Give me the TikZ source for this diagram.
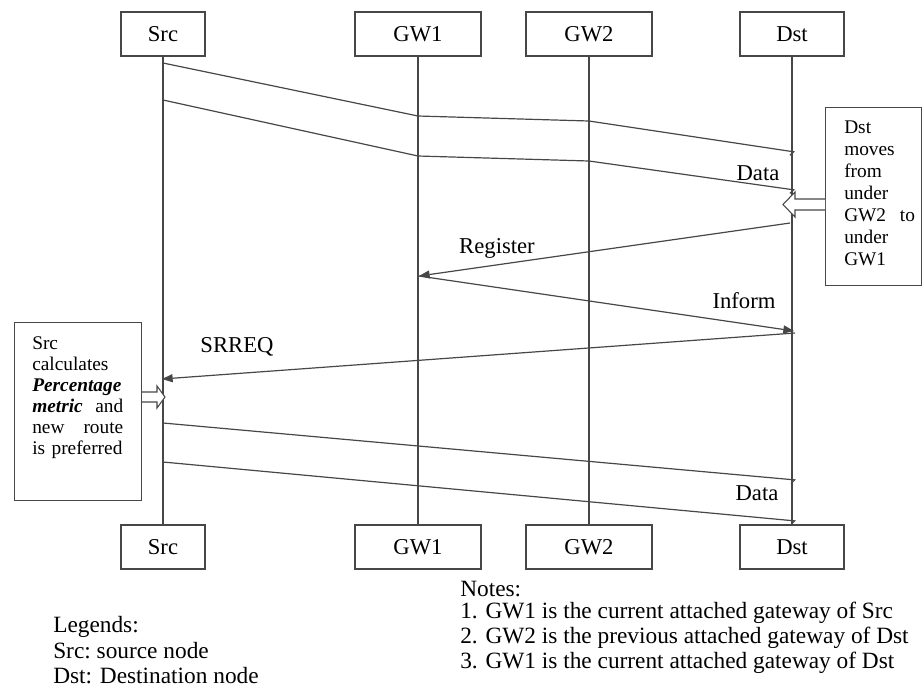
\documentclass[tikz,border=0pt]{standalone}
\usepackage{fontspec}
\setmainfont{Liberation Serif}
\usetikzlibrary{arrows.meta}

\begin{document}
\begin{tikzpicture}[x=0.75pt,y=-0.75pt,
  ink/.style={draw=black!72, line width=0.9pt},
  actor/.style={ink, fill=white, inner sep=0pt, minimum height=33pt,
                font=\fontsize{17}{20}\selectfont},
  msg/.style={ink, -{Triangle[length=8pt,width=6pt]}},
  datamsg/.style={ink, -{Straight Barb[length=2.5pt,width=6pt,right]}},
  lbl/.style={inner sep=0pt, font=\fontsize{17}{20}\selectfont},
  note/.style={inner sep=0pt, anchor=west, font=\fontsize{17.5}{20}\selectfont},
  hollow/.style={ink, fill=white, line width=0.8pt}]

\useasboundingbox (0,0) rectangle (922,687);

% participants, top row
\node[actor, minimum width=63pt]   (srcT) at (163,34) {Src};
\node[actor, minimum width=94.5pt] (gw1T) at (418,34) {GW1};
\node[actor, minimum width=94.5pt] (gw2T) at (589,34) {GW2};
\node[actor, minimum width=78pt]   (dstT) at (792,34) {Dst};

% participants, bottom row
\node[actor, minimum width=63pt]   (srcB) at (163,547) {Src};
\node[actor, minimum width=94.5pt] (gw1B) at (418,547) {GW1};
\node[actor, minimum width=94.5pt] (gw2B) at (589,547) {GW2};
\node[actor, minimum width=78pt]   (dstB) at (792,547) {Dst};

% lifelines
\draw[ink] (srcT) -- (srcB);
\draw[ink] (gw1T) -- (gw1B);
\draw[ink] (gw2T) -- (gw2B);
\draw[ink] (dstT) -- (dstB);

% points on the lifelines
\coordinate (s1) at (163,63);   \coordinate (g11) at (418,116);
\coordinate (g21) at (589,121); \coordinate (d1) at (795,152);
\coordinate (s2) at (163,100);  \coordinate (g12) at (418,156);
\coordinate (g22) at (589,161); \coordinate (d2) at (795,190);
\coordinate (dReg) at (790,223); \coordinate (gReg) at (419,276);
\coordinate (dInf) at (794,331);
\coordinate (dReq) at (795,333); \coordinate (sReq) at (162,379);
\coordinate (s3) at (163,423);  \coordinate (d3) at (796,480);
\coordinate (s4) at (163,462);  \coordinate (d4) at (796,521);

% data before the move
\draw[datamsg] (s1) -- (g11) -- (g21) -- (d1);
\draw[datamsg] (s2) -- (g12) -- (g22) -- (d2);
\node[lbl] (data1) at (758,173) {Data};

% hand-over signalling
\draw[msg] (dReg) -- (gReg);
\node[lbl] (reg) at (497,248) {Register};
\draw[msg] (gReg) -- (dInf);
\node[lbl] (inf) at (744,301) {Inform};
\draw[msg] (dReq) -- (sReq);
\node[lbl] (srreq) at (237,347) {SRREQ};

% data after the route change
\draw[datamsg] (s3) -- (d3);
\draw[datamsg] (s4) -- (d4);
\node[lbl] (data2) at (757,493) {Data};

% event box on the destination side
\node[ink, anchor=north west, inner sep=0pt, minimum width=72pt,
      minimum height=133.5pt] (moveBox) at (825,107) {};
\node[anchor=north west, inner sep=0pt, text width=53pt, align=left,
      font=\fontsize{14.5}{16.5}\selectfont] (moveTxt) at (844,121)
  {Dst\\moves\\from\\under\\\makebox[53pt][l]{GW2\hfill to}\\under\\GW1};
\draw[hollow] (moveBox.west |- 0,199) -- (795,199) -- (795,192) -- (783,204.5)
  -- (795,217) -- (795,210) -- (moveBox.west |- 0,210);

% event box on the source side
\node[ink, anchor=north west, inner sep=0pt, minimum width=95.25pt,
      minimum height=133.5pt] (calcBox) at (14,322) {};
\node[anchor=north west, inner sep=0pt, text width=68.25pt, align=left,
      font=\fontsize{14.5}{15.75}\selectfont] (calcTxt) at (32,336)
  {Src\\calculates\\\textbf{\textit{Percentage}}\\
   \makebox[68.25pt][l]{\textbf{\textit{metric}}\hfill and}\\
   \makebox[68.25pt][l]{new\hfill route}\\is preferred};
\draw[hollow] (calcBox.east |- 0,392) -- (157,392) -- (157,386) -- (165,397)
  -- (157,408) -- (157,402) -- (calcBox.east |- 0,402);

% legend and notes
\node[note] (leg0) at (53,627) {Legends:};
\node[note] (leg1) at (53,651) {Src:\ source node};
\node[note] (leg2) at (53,676) {Dst: Destination node};
\node[note] (not0) at (460,589) {Notes:};
\node[note] (not1) at (460,613) {1. GW1 is the current attached gateway of Src};
\node[note] (not2) at (460,638) {2. GW2 is the previous attached gateway of Dst};
\node[note] (not3) at (460,663) {3. GW1 is the current attached gateway of Dst};
\end{tikzpicture}
\end{document}
